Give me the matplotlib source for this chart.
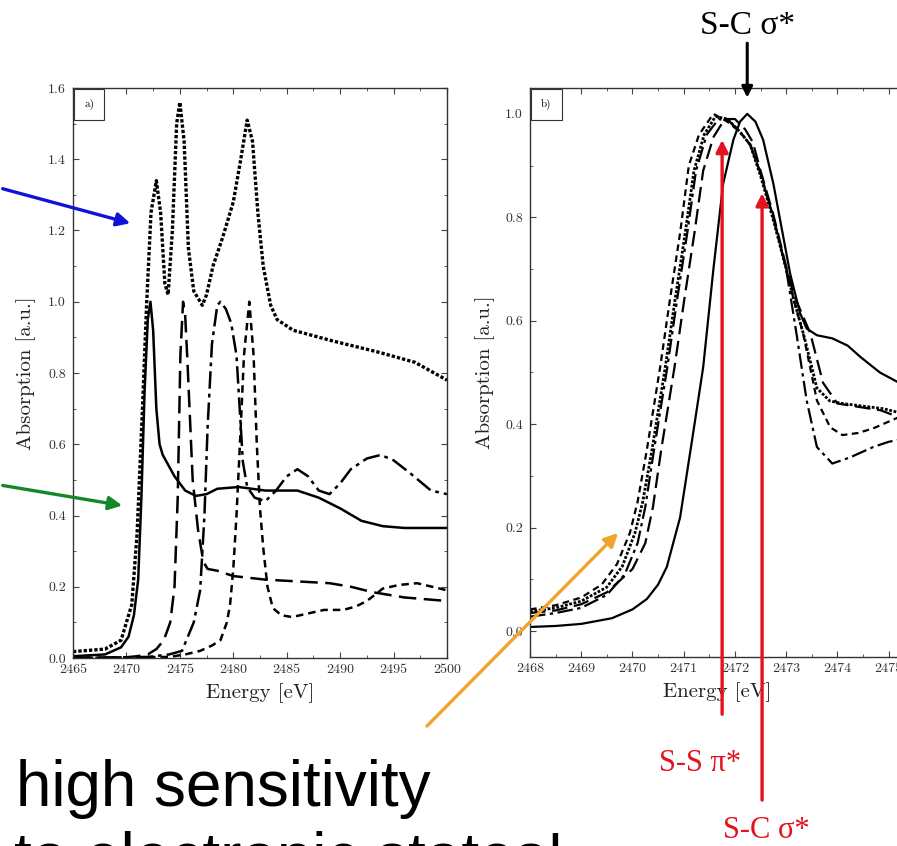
import numpy as np
import matplotlib
matplotlib.use('Agg')
import matplotlib.pyplot as plt
from matplotlib.ticker import MultipleLocator

# ---- panel a) : S K-edge spectra, wide energy range ----
ea_solid = [2465, 2468, 2469.5, 2470.2, 2470.7, 2471.1, 2471.4, 2471.7, 2472.0, 2472.25, 2472.5, 2472.8,
            2473.1, 2473.4, 2474.5, 2475.5, 2476.5, 2477.5, 2478.5, 2480.5, 2483, 2486, 2488, 2490,
            2492, 2494, 2496, 2500]
a_solid = [0.005, 0.01, 0.03, 0.06, 0.12, 0.22, 0.45, 0.75, 0.95, 1.0, 0.92, 0.70,
           0.60, 0.57, 0.51, 0.47, 0.455, 0.46, 0.475, 0.48, 0.47, 0.47, 0.45, 0.42,
           0.385, 0.37, 0.365, 0.365]

ea_dot = [2465, 2468, 2469.5, 2470.5, 2471.0, 2471.5, 2471.9, 2472.3, 2472.8, 2473.2, 2473.6, 2473.9,
          2474.3, 2474.7, 2475.0, 2475.4, 2475.8, 2476.3, 2477.1, 2477.5, 2478.1, 2479.0, 2480.0,
          2480.7, 2481.3, 2481.8, 2482.3, 2482.8, 2483.5, 2484.1, 2485.6, 2489.3, 2493.4, 2497.0, 2500]
a_dot = [0.018, 0.025, 0.05, 0.15, 0.35, 0.70, 1.0, 1.25, 1.34, 1.25, 1.05, 1.02,
         1.20, 1.50, 1.56, 1.45, 1.15, 1.03, 0.99, 1.02, 1.10, 1.18, 1.28,
         1.40, 1.51, 1.45, 1.25, 1.10, 0.99, 0.95, 0.92, 0.89, 0.86, 0.83, 0.78]

ea_ldash = [2465, 2470, 2471, 2472, 2472.8, 2473.5, 2474.1, 2474.5, 2474.8, 2475.05, 2475.3, 2475.5,
            2475.7, 2476.2, 2476.7, 2477.2, 2477.6, 2478.5, 2480, 2483, 2486, 2489, 2491, 2493,
            2496, 2500]
a_ldash = [0.0, 0.002, 0.005, 0.01, 0.025, 0.05, 0.10, 0.20, 0.45, 0.85, 1.0, 0.96,
           0.84, 0.50, 0.36, 0.27, 0.25, 0.245, 0.23, 0.22, 0.215, 0.21, 0.20, 0.185,
           0.17, 0.16]

ea_dashdot = [2465, 2472, 2474, 2475.2, 2476.3, 2476.9, 2477.3, 2477.6, 2478.0, 2478.5, 2478.8,
              2479.3, 2479.8, 2480.3, 2480.6, 2480.9, 2481.3, 2482.0, 2483.0, 2484.0, 2485.0,
              2486.0, 2487.0, 2488.0, 2489.0, 2490.0, 2491.0, 2492.5, 2493.8, 2495.0, 2496.5,
              2498.5, 2500]
a_dashdot = [0.0, 0.003, 0.01, 0.02, 0.10, 0.19, 0.40, 0.65, 0.88, 0.99, 1.0,
             0.98, 0.94, 0.85, 0.70, 0.55, 0.48, 0.45, 0.44, 0.47, 0.51,
             0.53, 0.51, 0.47, 0.46, 0.49, 0.53, 0.56, 0.57, 0.555, 0.52,
             0.47, 0.46]

ea_sdash = [2465, 2474, 2475.5, 2476.9, 2478.0, 2478.8, 2479.4, 2479.7, 2480.0, 2480.3, 2480.7,
            2481.0, 2481.5, 2481.9, 2482.2, 2482.5, 2482.8, 2483.2, 2483.7, 2484.5, 2485.5,
            2487.0, 2488.5, 2490.3, 2491.5, 2492.5, 2494.0, 2495.5, 2497.2, 2500]
a_sdash = [0.0, 0.003, 0.01, 0.02, 0.035, 0.05, 0.10, 0.15, 0.25, 0.40, 0.65,
           0.85, 1.0, 0.85, 0.60, 0.42, 0.31, 0.20, 0.14, 0.12, 0.115,
           0.125, 0.135, 0.135, 0.145, 0.16, 0.195, 0.205, 0.21, 0.19]

# ---- panel b) : zoom on the white line ----
eb_solid = [2468.0, 2468.5, 2469.0, 2469.6, 2470.0, 2470.28, 2470.5, 2470.67, 2470.93, 2471.18,
            2471.38, 2471.58, 2471.77, 2471.97, 2472.1, 2472.24, 2472.4, 2472.55, 2472.75, 2473.08,
            2473.27, 2473.4, 2473.6, 2473.9, 2474.2, 2474.45, 2474.83, 2475.3]
b_solid = [0.008, 0.01, 0.014, 0.025, 0.042, 0.062, 0.09, 0.124, 0.22, 0.38,
           0.51, 0.70, 0.865, 0.95, 0.985, 1.0, 0.985, 0.95, 0.865, 0.69,
           0.615, 0.585, 0.572, 0.566, 0.552, 0.53, 0.50, 0.475]

eb_sdash = [2468.0, 2468.5, 2469.0, 2469.4, 2469.7, 2469.95, 2470.1, 2470.28, 2470.54, 2470.73,
            2470.93, 2471.1, 2471.3, 2471.58, 2471.85, 2472.1, 2472.3, 2472.5, 2472.75, 2473.0,
            2473.15, 2473.33, 2473.6, 2473.86, 2474.1, 2474.4, 2474.7, 2475.0, 2475.3]
b_sdash = [0.042, 0.05, 0.065, 0.09, 0.13, 0.19, 0.25, 0.35, 0.51, 0.64,
           0.77, 0.90, 0.96, 1.0, 0.985, 0.965, 0.94, 0.885, 0.80, 0.70,
           0.64, 0.576, 0.446, 0.394, 0.379, 0.383, 0.392, 0.405, 0.418]

eb_dot = [2468.0, 2468.5, 2469.0, 2469.5, 2469.8, 2470.05, 2470.2, 2470.38, 2470.64, 2470.83,
          2471.03, 2471.2, 2471.4, 2471.62, 2471.85, 2472.1, 2472.3, 2472.5, 2472.75, 2473.0,
          2473.15, 2473.35, 2473.6, 2473.85, 2474.1, 2474.5, 2474.9, 2475.3]
b_dot = [0.038, 0.045, 0.058, 0.085, 0.125, 0.19, 0.25, 0.35, 0.51, 0.64,
         0.77, 0.89, 0.96, 0.995, 0.99, 0.965, 0.94, 0.88, 0.795, 0.70,
         0.64, 0.57, 0.47, 0.445, 0.44, 0.435, 0.43, 0.42]

eb_dashdot = [2468.0, 2468.5, 2469.0, 2469.5, 2469.85, 2470.1, 2470.25, 2470.42, 2470.68, 2470.87,
              2471.07, 2471.24, 2471.45, 2471.68, 2471.9, 2472.1, 2472.3, 2472.5, 2472.75, 2473.0,
              2473.2, 2473.4, 2473.6, 2473.9, 2474.25, 2474.7, 2475.0, 2475.3]
b_dashdot = [0.028, 0.035, 0.045, 0.07, 0.11, 0.17, 0.24, 0.35, 0.51, 0.64,
             0.77, 0.89, 0.96, 0.99, 0.985, 0.965, 0.94, 0.885, 0.80, 0.70,
             0.576, 0.446, 0.356, 0.324, 0.336, 0.356, 0.366, 0.372]

eb_ldash = [2468.0, 2468.5, 2469.0, 2469.5, 2470.0, 2470.25, 2470.4, 2470.56, 2470.82, 2471.01,
            2471.21, 2471.38, 2471.58, 2471.8, 2472.0, 2472.2, 2472.35, 2472.5, 2472.75, 2473.0,
            2473.15, 2473.47, 2473.72, 2474.0, 2474.45, 2474.84, 2475.3]
b_ldash = [0.035, 0.04, 0.052, 0.075, 0.12, 0.17, 0.24, 0.35, 0.51, 0.64,
           0.77, 0.89, 0.955, 0.99, 0.99, 0.97, 0.945, 0.89, 0.805, 0.705,
           0.65, 0.576, 0.48, 0.44, 0.433, 0.427, 0.41]

# resonance assignments marked in panel b)
sc_top_energy = 2472.24
res_labels = ['S-S π*', 'S-C σ*']
res_energy = [2471.75, 2472.53]
res_head = [0.955, 0.852]

W, H = 897, 846
fig = plt.figure(figsize=(W / 100, H / 100), dpi=100)
fig.patch.set_facecolor('white')

serif = 'cmr10'
ls_dot = (0, (1.0, 0.6))
ls_sdash = (0, (3.0, 2.0))
ls_ldash = (0, (7.0, 3.0))
ls_dashdot = (0, (7.0, 2.0, 1.5, 2.0))


def style_axes(ax, xmaj, xmin_, ymaj, ymin_):
    ax.xaxis.set_major_locator(MultipleLocator(xmaj))
    ax.xaxis.set_minor_locator(MultipleLocator(xmin_))
    ax.yaxis.set_major_locator(MultipleLocator(ymaj))
    ax.yaxis.set_minor_locator(MultipleLocator(ymin_))
    ax.tick_params(which='both', direction='in', top=True, right=True, color='#444444')
    ax.tick_params(which='major', length=4, width=0.8)
    ax.tick_params(which='minor', length=2, width=0.6)
    ax.tick_params(axis='x', labelsize=10, pad=4)
    ax.tick_params(axis='y', labelsize=10, pad=5)
    for lab in ax.get_xticklabels() + ax.get_yticklabels():
        lab.set_fontfamily(serif)
        lab.set_color('#333333')
    for s in ax.spines.values():
        s.set_linewidth(1.0)
        s.set_color('#333333')
    ax.set_xlabel('Energy [eV]', fontfamily=serif, fontsize=15, color='#222222')
    ax.set_ylabel('Absorption [a.u.]', fontfamily=serif, fontsize=15, color='#222222')


# panel a
axa = fig.add_axes([73 / W, 1 - 658 / H, 374 / W, 570 / H])
axa.plot(ea_solid, a_solid, color='black', lw=1.8, ls='-')
axa.plot(ea_dot, a_dot, color='black', lw=2.4, ls=ls_dot)
axa.plot(ea_ldash, a_ldash, color='black', lw=1.8, ls=ls_ldash)
axa.plot(ea_dashdot, a_dashdot, color='black', lw=1.8, ls=ls_dashdot)
axa.plot(ea_sdash, a_sdash, color='black', lw=1.8, ls=ls_sdash)
axa.set_xlim(2465, 2500)
axa.set_ylim(0, 1.6)
style_axes(axa, 5, 2.5, 0.2, 0.1)
axa.xaxis.set_label_coords(0.5, -0.044)
axa.yaxis.set_label_coords(-0.10, 0.5)
axa.text(0.044, 0.971, 'a)', transform=axa.transAxes, ha='center', va='center',
         fontsize=8, fontfamily=serif,
         bbox=dict(boxstyle='square,pad=0.9', fc='white', ec='#333333', lw=0.8))

# panel b (right part runs off the page)
axb = fig.add_axes([530 / W, 1 - 657 / H, 374 / W, 569 / H])
axb.plot(eb_solid, b_solid, color='black', lw=1.6, ls='-')
axb.plot(eb_sdash, b_sdash, color='black', lw=1.6, ls=ls_sdash)
axb.plot(eb_dot, b_dot, color='black', lw=2.0, ls=ls_dot)
axb.plot(eb_dashdot, b_dashdot, color='black', lw=1.6, ls=ls_dashdot)
axb.plot(eb_ldash, b_ldash, color='black', lw=1.6, ls=ls_ldash)
axb.set_xlim(2468, 2475.3)
axb.set_ylim(-0.05, 1.05)
style_axes(axb, 1, 0.5, 0.2, 0.1)
axb.xaxis.set_label_coords(0.5, -0.044)
axb.yaxis.set_label_coords(-0.094, 0.5)
axb.text(0.044, 0.971, 'b)', transform=axb.transAxes, ha='center', va='center',
         fontsize=8, fontfamily=serif,
         bbox=dict(boxstyle='square,pad=0.9', fc='white', ec='#333333', lw=0.8))

# black S-C sigma* marker above the solid-line maximum
axb.annotate('', xy=(sc_top_energy, 1.026), xytext=(sc_top_energy, 1.142),
             arrowprops=dict(arrowstyle='-|>', color='black', lw=2.2, mutation_scale=16),
             annotation_clip=False)
axb.text(sc_top_energy, 1.171, 'S-C σ*', ha='center', va='center', fontsize=24,
         fontfamily='Liberation Serif', color='black', clip_on=False)

# red resonance arrows coming up from below the axis
red = '#e3121c'
bottoms = [-0.166, -0.332]
label_pos = [(2471.32, -0.255), (2472.61, -0.385)]
for lab, e, top, bot, (tx, ty) in zip(res_labels, res_energy, res_head, bottoms, label_pos):
    axb.annotate('', xy=(e, top), xytext=(e, bot),
                 arrowprops=dict(arrowstyle='-|>', color=red, lw=2.4, mutation_scale=18),
                 annotation_clip=False)
    axb.text(tx, ty, lab, ha='center', va='center', fontsize=22,
             fontfamily='Liberation Serif', color=red, clip_on=False)

# overlay in pixel units for the coloured pointers and the caption
ov = fig.add_axes([0, 0, 1, 1])
ov.set_xlim(0, W)
ov.set_ylim(H, 0)
ov.axis('off')

pointers = [((0, 188), (133, 224), '#1212d6'),
            ((0, 485), (125, 506), '#13882a'),
            ((425, 728), (620, 531), '#f0a32e')]
for tail, head, c in pointers:
    ov.annotate('', xy=head, xytext=tail,
                arrowprops=dict(arrowstyle='-|>', color=c, lw=2.4, mutation_scale=20))

ov.text(16, 806, 'high sensitivity', fontsize=46, family='Liberation Sans',
        va='baseline', ha='left')
ov.text(14, 878, 'to electronic states!', fontsize=46, family='Liberation Sans',
        va='baseline', ha='left')

fig.savefig('out.png', dpi=100)
plt.close()
